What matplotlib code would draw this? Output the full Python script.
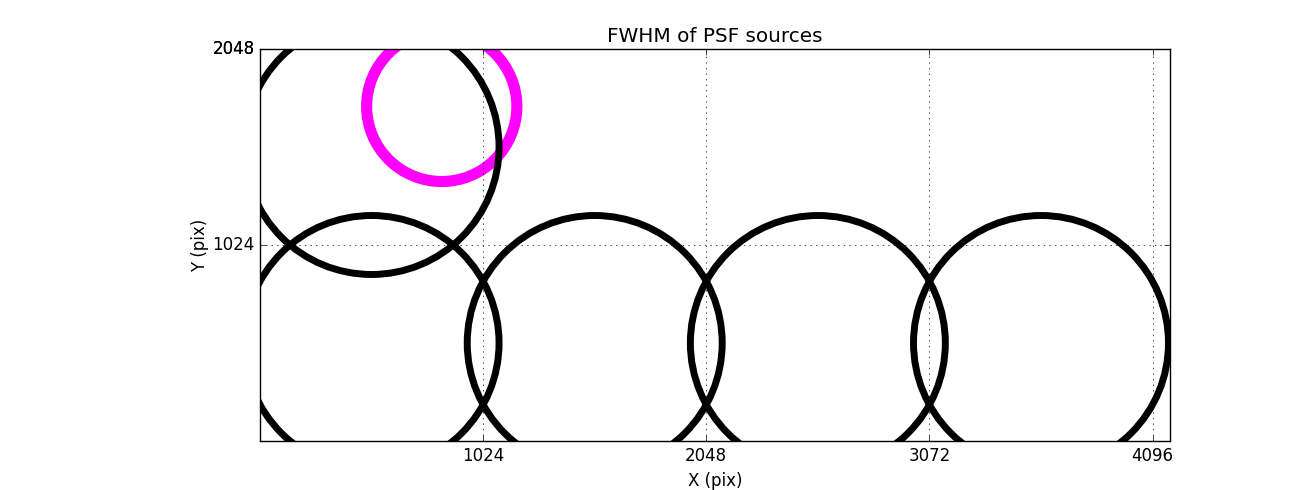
import matplotlib
matplotlib.use('Agg')
import matplotlib.pyplot as plt
import numpy as np

plt.style.use('classic')

# source positions (pix) and marker sizes
grid_x = [512, 1536, 2560, 3584, 512]
grid_y = [512, 512, 512, 512, 1536]
psf_x = [834]
psf_y = [1748]

xticks = [1024, 2048, 3072, 4096]
yticks = [1024, 2048, 2048]

fig = plt.figure(figsize=(13, 4.9), dpi=100)
ax = fig.add_axes([0.2, 0.1, 0.7, 0.8])
ax.scatter(psf_x, psf_y, s=11700, facecolors='none', edgecolors='#ff00ff', linewidths=8)
ax.scatter(grid_x, grid_y, s=33700, facecolors='none', edgecolors='k', linewidths=5)
ax.set_xlim(0, 4176)
ax.set_ylim(0, 2048)
ax.set_xticks(xticks)
ax.set_yticks(yticks)
ax.grid(True)
ax.set_xlabel('X (pix)')
ax.set_ylabel('Y (pix)', labelpad=2)
ax.set_title('FWHM of PSF sources')
fig.savefig('out.png', dpi=100)
